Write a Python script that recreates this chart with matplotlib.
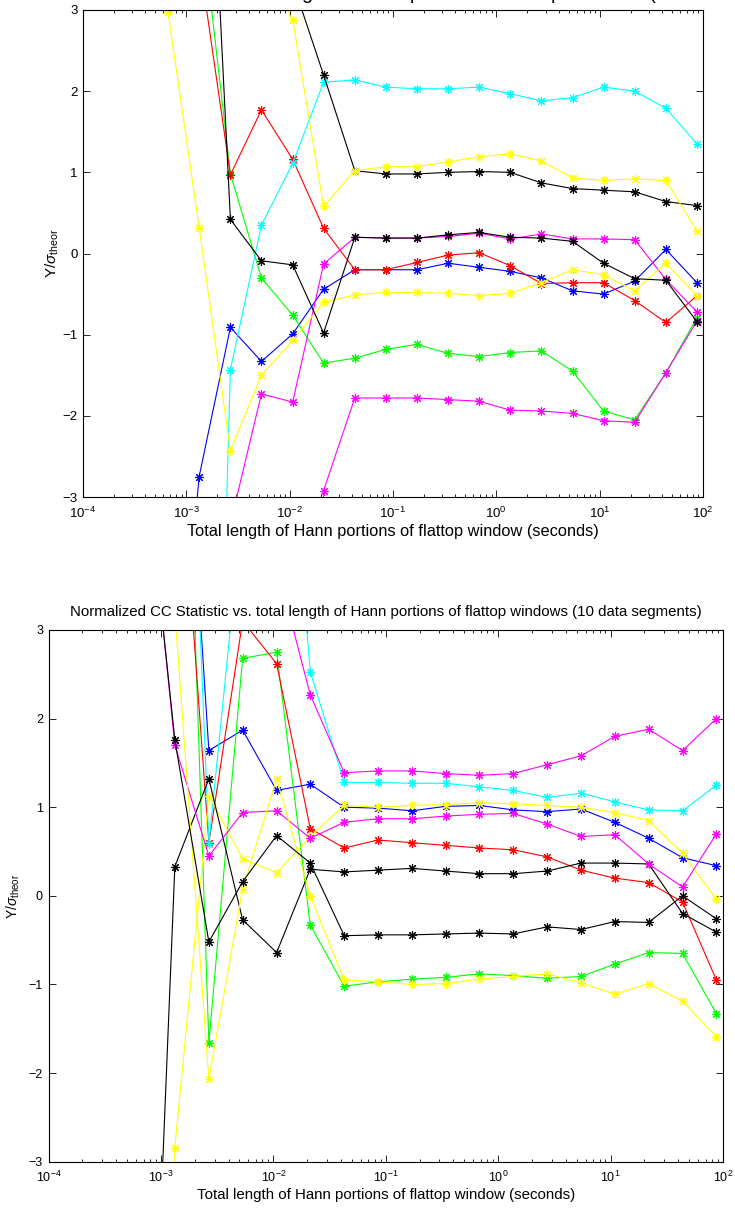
import numpy as np
import matplotlib
matplotlib.use("Agg")
import matplotlib.pyplot as plt
from matplotlib.ticker import LogFormatterSciNotation, NullFormatter, FixedLocator

plt.rcParams['font.family'] = ['Liberation Sans', 'DejaVu Sans']
plt.rcParams['mathtext.fontset'] = 'custom'
plt.rcParams['mathtext.rm'] = 'Liberation Sans'
plt.rcParams['mathtext.it'] = 'Liberation Sans:italic'
plt.rcParams['mathtext.bf'] = 'Liberation Sans:bold'

# ---------------- data ----------------
hann_length = [0.000666, 0.00133, 0.00267, 0.00533, 0.0107, 0.0213, 0.0427, 0.0853,
               0.171, 0.341, 0.682, 1.36, 2.73, 5.46, 10.9, 21.8, 43.7, 87.4]

# top panel (1 data segment)
top_blue     = [-6.9, -2.75, -0.91, -1.33, -0.99, -0.44, -0.20, -0.20, -0.20, -0.12, -0.17, -0.22, -0.30, -0.46, -0.50, -0.34, 0.05, -0.36]
top_green    = [8.0, 4.35, 0.98, -0.30, -0.76, -1.35, -1.29, -1.18, -1.12, -1.23, -1.27, -1.22, -1.20, -1.45, -1.94, -2.05, -1.47, -0.79]
top_red      = [7.0, 3.64, 0.97, 1.77, 1.16, 0.31, -0.20, -0.20, -0.11, -0.02, 0.01, -0.15, -0.37, -0.36, -0.36, -0.58, -0.85, -0.52]
top_cyan     = [-20.0, -15.0, -1.43, 0.35, 1.11, 2.11, 2.14, 2.05, 2.03, 2.03, 2.05, 1.97, 1.88, 1.92, 2.05, 2.00, 1.79, 1.35]
top_magenta1 = [-10.0, -8.0, -3.33, -1.73, -1.83, -0.13, 0.20, 0.19, 0.19, 0.21, 0.25, 0.18, 0.24, 0.18, 0.18, 0.17, -0.32, -0.72]
top_yellow1  = [2.97, 0.32, -2.43, -1.50, -1.07, -0.60, -0.51, -0.48, -0.48, -0.49, -0.52, -0.49, -0.36, -0.20, -0.26, -0.46, -0.12, -0.52]
top_black1   = [12.0, 10.0, 8.0, 6.0, 3.34, 2.20, 1.02, 0.98, 0.98, 1.00, 1.01, 1.00, 0.87, 0.80, 0.78, 0.76, 0.64, 0.59]
top_magenta2 = [-25.0, -22.0, -20.0, -18.0, -20.0, -2.92, -1.78, -1.78, -1.78, -1.80, -1.82, -1.93, -1.94, -1.97, -2.06, -2.08, -1.47, -0.83]
top_yellow2  = [12.0, 10.0, 8.0, 3.5, 2.88, 0.58, 1.02, 1.07, 1.07, 1.13, 1.19, 1.23, 1.14, 0.93, 0.90, 0.92, 0.90, 0.28]
top_black2   = [12.0, 8.2, 0.42, -0.09, -0.14, -0.98, 0.20, 0.19, 0.19, 0.23, 0.26, 0.20, 0.19, 0.15, -0.12, -0.31, -0.33, -0.84]

# bottom panel (10 data segments)
bot_blue     = [12.0, 7.6, 1.64, 1.87, 1.19, 1.26, 1.00, 0.99, 0.96, 1.01, 1.02, 0.97, 0.95, 0.98, 0.83, 0.65, 0.43, 0.34]
bot_green    = [12.0, 9.8, -1.66, 2.68, 2.75, -0.33, -1.02, -0.97, -0.94, -0.92, -0.88, -0.90, -0.93, -0.91, -0.77, -0.64, -0.65, -1.33]
bot_red      = [10.0, 5.9, 0.60, 3.1, 2.62, 0.76, 0.54, 0.63, 0.60, 0.57, 0.54, 0.52, 0.44, 0.29, 0.20, 0.15, -0.07, -0.95]
bot_cyan     = [12.0, 9.97, 0.59, 4.4, 7.1, 2.53, 1.28, 1.28, 1.27, 1.27, 1.23, 1.19, 1.11, 1.16, 1.06, 0.97, 0.96, 1.25]
bot_magenta1 = [10.0, 9.0, 8.0, 6.0, 3.73, 2.27, 1.39, 1.41, 1.41, 1.38, 1.36, 1.38, 1.48, 1.58, 1.80, 1.88, 1.64, 2.00]
bot_yellow1  = [-30.0, -2.84, 1.13, 0.42, 0.26, 0.67, 1.02, 1.00, 1.02, 1.03, 1.05, 1.04, 1.02, 1.00, 0.94, 0.85, 0.48, -0.04]
bot_black1   = [-9.0, 0.33, 1.32, -0.27, -0.64, 0.30, 0.27, 0.29, 0.31, 0.28, 0.25, 0.25, 0.28, 0.37, 0.37, 0.36, -0.20, -0.41]
bot_magenta2 = [5.5, 1.70, 0.45, 0.94, 0.96, 0.65, 0.83, 0.87, 0.87, 0.90, 0.92, 0.93, 0.81, 0.67, 0.69, 0.36, 0.10, 0.70]
bot_yellow2  = [8.0, 3.2, -2.07, 0.08, 1.32, 0.00, -0.95, -0.97, -1.00, -0.99, -0.94, -0.91, -0.88, -0.98, -1.11, -0.99, -1.19, -1.59]
bot_black2   = [5.4, 1.76, -0.52, 0.16, 0.68, 0.37, -0.45, -0.44, -0.44, -0.43, -0.42, -0.43, -0.35, -0.38, -0.29, -0.30, 0.00, -0.26]

x_major_ticks = [1e-4, 1e-3, 1e-2, 1e-1, 1e0, 1e1, 1e2]
y_ticks = [-3, -2, -1, 0, 1, 2, 3]

top_series = [(top_blue, 'b'), (top_green, 'g'), (top_red, 'r'), (top_cyan, 'c'),
              (top_magenta1, 'm'), (top_yellow1, 'y'), (top_black1, 'k'),
              (top_magenta2, 'm'), (top_yellow2, 'y'), (top_black2, 'k')]
bot_series = [(bot_blue, 'b'), (bot_green, 'g'), (bot_red, 'r'), (bot_cyan, 'c'),
              (bot_magenta1, 'm'), (bot_yellow1, 'y'), (bot_black1, 'k'),
              (bot_magenta2, 'm'), (bot_yellow2, 'y'), (bot_black2, 'k')]

colors = {'b': (0, 0, 1), 'g': (0, 1, 0), 'r': (1, 0, 0), 'c': (0, 1, 1),
          'm': (1, 0, 1), 'y': (1, 1, 0), 'k': (0, 0, 0)}

title_top = "Normalized CC Statistic vs. total length of Hann portions of flattop windows (1 data segment)"
title_bot = "Normalized CC Statistic vs. total length of Hann portions of flattop windows (10 data segments)"
xlabel_txt = "Total length of Hann portions of flattop window (seconds)"
ylabel_txt = r"Y/$\sigma_{\mathrm{theor}}$"

W, H = 735, 1209
fig = plt.figure(figsize=(W / 100, H / 100), dpi=100)


def px_axes(l, t, r, b):
    return fig.add_axes([l / W, 1 - b / H, (r - l) / W, (b - t) / H])


def style(ax, fs):
    ax.set_xscale('log')
    ax.set_xlim(1e-4, 1e2)
    ax.set_ylim(-3, 3)
    ax.yaxis.set_major_locator(FixedLocator(y_ticks))
    ax.xaxis.set_major_locator(FixedLocator(x_major_ticks))
    minor = [m * d for d in x_major_ticks[:-1] for m in range(2, 10)]
    ax.xaxis.set_minor_locator(FixedLocator(minor))
    ax.xaxis.set_major_formatter(LogFormatterSciNotation())
    ax.xaxis.set_minor_formatter(NullFormatter())
    ax.tick_params(which='both', direction='in', top=True, right=True, labelsize=fs, width=0.6)
    ax.tick_params(axis='y', pad=4)
    ax.tick_params(axis='x', pad=6)
    ax.tick_params(which='major', length=5)
    ax.tick_params(which='minor', length=2.5)
    for s in ax.spines.values():
        s.set_linewidth(0.8)


def draw(ax, series):
    for vals, c in series:
        ax.plot(hann_length, vals, '-', color=colors[c], lw=0.8,
                marker=(8, 2, 0), markersize=6.5, markeredgewidth=0.8)


# top panel
ax1 = px_axes(83, 10, 703, 497)
draw(ax1, top_series)
style(ax1, 9.5)
ax1.set_xlabel(xlabel_txt, fontsize=11.8)
ax1.xaxis.set_label_coords(0.5, -0.056)
ax1.xaxis.label.set_va('top')
ax1.set_ylabel(ylabel_txt, fontsize=11)
ax1.yaxis.set_label_coords(-0.035, 0.5)
# title of the top panel lies mostly above the picture; only its descenders show
fig.text(-13 / W, 1 + 1.3 / H, title_top, ha='left', va='baseline', fontsize=14.2)

# bottom panel
ax2 = px_axes(48.5, 630, 723, 1161.7)
draw(ax2, bot_series)
style(ax2, 9)
ax2.set_xlabel(xlabel_txt, fontsize=10.8)
ax2.xaxis.set_label_coords(0.5, -0.050)
ax2.xaxis.label.set_va('top')
ax2.set_ylabel(ylabel_txt, fontsize=10)
ax2.yaxis.set_label_coords(-0.040, 0.5)
ax2.set_title(title_bot, fontsize=10.8, pad=10)

fig.savefig('out.png', dpi=100)
